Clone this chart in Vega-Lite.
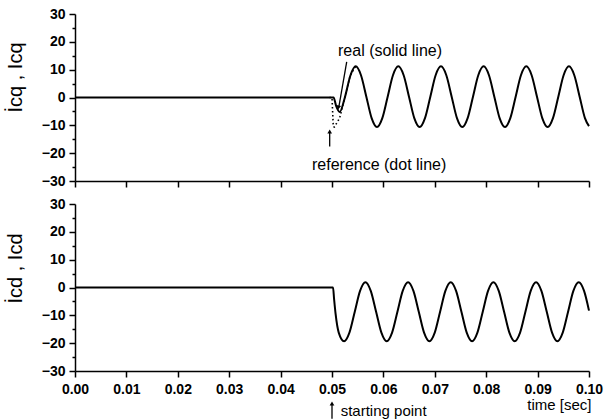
{
  "$schema": "https://vega.github.io/schema/vega-lite/v6.json",
  "background": "white",
  "padding": {"left": 5, "top": 7, "right": 10, "bottom": 0},
  "bounds": "flush",
  "spacing": 23,
  "config": {
    "font": "Liberation Sans",
    "view": {"stroke": null},
    "axis": {
      "grid": false,
      "domainColor": "black",
      "domainWidth": 1.5,
      "tickColor": "black",
      "tickWidth": 1.5,
      "labelColor": "black",
      "titleColor": "black",
      "labelFont": "Liberation Sans",
      "labelFontSize": 14,
      "labelFontWeight": "bold",
      "labelOverlap": false,
      "titleFont": "Liberation Sans",
      "titleFontWeight": "normal"
    }
  },
  "datasets": {
    "refq": [
      {"t": 0.0495, "v": 0}, {"t": 0.0500, "v": 0}, {"t": 0.05025, "v": -10.5}, {"t": 0.05045, "v": -10.6},
      {"t": 0.05149, "v": -7.4}, {"t": 0.05253, "v": 0.3}, {"t": 0.05356, "v": 8.0}, {"t": 0.0546, "v": 11.2}
    ],
    "realq": [
      {"t": 0, "v": 0}, {"t": 0.0503, "v": 0}, {"t": 0.0508, "v": -3}, {"t": 0.0515, "v": -5.2},
      {"t": 0.0525, "v": 0}, {"t": 0.0536, "v": 8.0}, {"t": 0.0546, "v": 11.2},
      {"t": 0.05564, "v": 8.0}, {"t": 0.05668, "v": 0.3}, {"t": 0.05771, "v": -7.4}, {"t": 0.05875, "v": -10.6},
      {"t": 0.05979, "v": -7.4}, {"t": 0.06083, "v": 0.3}, {"t": 0.06186, "v": 8.0}, {"t": 0.0629, "v": 11.2},
      {"t": 0.06394, "v": 8.0}, {"t": 0.06498, "v": 0.3}, {"t": 0.06601, "v": -7.4}, {"t": 0.06705, "v": -10.6},
      {"t": 0.06809, "v": -7.4}, {"t": 0.06913, "v": 0.3}, {"t": 0.07016, "v": 8.0}, {"t": 0.0712, "v": 11.2},
      {"t": 0.07224, "v": 8.0}, {"t": 0.07328, "v": 0.3}, {"t": 0.07431, "v": -7.4}, {"t": 0.07535, "v": -10.6},
      {"t": 0.07639, "v": -7.4}, {"t": 0.07743, "v": 0.3}, {"t": 0.07846, "v": 8.0}, {"t": 0.0795, "v": 11.2},
      {"t": 0.08054, "v": 8.0}, {"t": 0.08158, "v": 0.3}, {"t": 0.08261, "v": -7.4}, {"t": 0.08365, "v": -10.6},
      {"t": 0.08469, "v": -7.4}, {"t": 0.08573, "v": 0.3}, {"t": 0.08676, "v": 8.0}, {"t": 0.0878, "v": 11.2},
      {"t": 0.08884, "v": 8.0}, {"t": 0.08988, "v": 0.3}, {"t": 0.09091, "v": -7.4}, {"t": 0.09195, "v": -10.6},
      {"t": 0.09299, "v": -7.4}, {"t": 0.09403, "v": 0.3}, {"t": 0.09506, "v": 8.0}, {"t": 0.0961, "v": 11.2},
      {"t": 0.09714, "v": 8.0}, {"t": 0.09818, "v": 0.3}, {"t": 0.09921, "v": -7.4}, {"t": 0.1, "v": -10.3}
    ],
    "reald": [
      {"t": 0, "v": 0}, {"t": 0.0502, "v": 0}, {"t": 0.0504, "v": -4}, {"t": 0.0507, "v": -9.5},
      {"t": 0.05131, "v": -16.2}, {"t": 0.05235, "v": -19.3},
      {"t": 0.05339, "v": -16.2}, {"t": 0.05443, "v": -8.7}, {"t": 0.05546, "v": -1.2}, {"t": 0.0565, "v": 1.9},
      {"t": 0.05754, "v": -1.2}, {"t": 0.05858, "v": -8.7}, {"t": 0.05961, "v": -16.2}, {"t": 0.06065, "v": -19.3},
      {"t": 0.06169, "v": -16.2}, {"t": 0.06273, "v": -8.7}, {"t": 0.06376, "v": -1.2}, {"t": 0.0648, "v": 1.9},
      {"t": 0.06584, "v": -1.2}, {"t": 0.06688, "v": -8.7}, {"t": 0.06791, "v": -16.2}, {"t": 0.06895, "v": -19.3},
      {"t": 0.06999, "v": -16.2}, {"t": 0.07103, "v": -8.7}, {"t": 0.07206, "v": -1.2}, {"t": 0.0731, "v": 1.9},
      {"t": 0.07414, "v": -1.2}, {"t": 0.07518, "v": -8.7}, {"t": 0.07621, "v": -16.2}, {"t": 0.07725, "v": -19.3},
      {"t": 0.07829, "v": -16.2}, {"t": 0.07933, "v": -8.7}, {"t": 0.08036, "v": -1.2}, {"t": 0.0814, "v": 1.9},
      {"t": 0.08244, "v": -1.2}, {"t": 0.08348, "v": -8.7}, {"t": 0.08451, "v": -16.2}, {"t": 0.08555, "v": -19.3},
      {"t": 0.08659, "v": -16.2}, {"t": 0.08763, "v": -8.7}, {"t": 0.08866, "v": -1.2}, {"t": 0.0897, "v": 1.9},
      {"t": 0.09074, "v": -1.2}, {"t": 0.09178, "v": -8.7}, {"t": 0.09281, "v": -16.2}, {"t": 0.09385, "v": -19.3},
      {"t": 0.09489, "v": -16.2}, {"t": 0.09593, "v": -8.7}, {"t": 0.09696, "v": -1.2}, {"t": 0.098, "v": 1.9},
      {"t": 0.09904, "v": -1.2}, {"t": 0.1, "v": -8.3}
    ],
    "notesTop": [
      {"t": 0.05117, "v": 16.7, "label": "real (solid line)"},
      {"t": 0.04611, "v": -24.3, "label": "reference (dot line)"}
    ],
    "arrowsTop": [
      {"t": 0.05286, "v": 12.8, "t2": 0.05135, "v2": -3.2},
      {"t": 0.04955, "v": -17.6, "t2": 0.04955, "v2": -12.5}
    ],
    "headsTop": [
      {"t": 0.05125, "v": -3.6, "ang": 191},
      {"t": 0.04955, "v": -12.2, "ang": 0}
    ],
    "notesBottom": [
      {"t": 0.05169, "v": -44.4, "label": "starting point"}
    ],
    "arrowsBottom": [
      {"t": 0.0500, "v": -47.2, "t2": 0.0500, "v2": -42.0}
    ],
    "headsBottom": [
      {"t": 0.0500, "v": -41.7, "ang": 0}
    ]
  },
  "vconcat": [
    {
      "width": 514,
      "height": 167,
      "resolve": {"axis": {"y": "independent"}},
      "layer": [
        {
          "data": {"name": "refq"},
          "mark": {"type": "line", "color": "black", "strokeWidth": 1.6, "strokeDash": [1.5, 2.5], "interpolate": "linear"},
          "encoding": {
            "x": {"field": "t", "type": "quantitative", "scale": {"domain": [0, 0.1], "nice": false, "zero": false},
              "axis": {"values": [0, 0.005, 0.01, 0.015, 0.02, 0.025, 0.03, 0.035, 0.04, 0.045, 0.05, 0.055, 0.06, 0.065, 0.07, 0.075, 0.08, 0.085, 0.09, 0.095, 0.1],
                "labels": false, "title": null,
                "tickSize": {"condition": {"test": "abs(datum.value*100 - round(datum.value*100)) < 0.01", "value": 6}, "value": 3}}},
            "y": {"field": "v", "type": "quantitative", "scale": {"domain": [-30, 30], "nice": false},
              "axis": {"orient": "left", "values": [-30, -20, -10, 0, 10, 20, 30],
                "labelOverlap": false, "tickSize": 6, "labelPadding": 4,
                "title": "İcq , Icq", "titleFontSize": 20, "titleAngle": -90, "titleBaseline": "alphabetic",
                "titleAlign": "center", "titleX": -54, "titleY": 63}}
          }
        },
        {
          "data": {"name": "realq"},
          "mark": {"type": "line", "color": "black", "strokeWidth": 2, "interpolate": "monotone"},
          "encoding": {
            "x": {"field": "t", "type": "quantitative"},
            "y": {"field": "v", "type": "quantitative",
              "axis": {"orient": "left", "values": [-25, -15, -5, 5, 15, 25], "labels": false, "domain": false, "tickSize": 3, "title": null}}
          }
        },
        {
          "data": {"name": "notesTop"},
          "mark": {"type": "text", "align": "left", "baseline": "middle", "fontSize": 16, "color": "black"},
          "encoding": {
            "x": {"field": "t", "type": "quantitative"},
            "y": {"field": "v", "type": "quantitative", "axis": null},
            "text": {"field": "label"}
          }
        },
        {
          "data": {"name": "arrowsTop"},
          "mark": {"type": "rule", "color": "black", "strokeWidth": 1.3},
          "encoding": {
            "x": {"field": "t", "type": "quantitative"},
            "y": {"field": "v", "type": "quantitative", "axis": null},
            "x2": {"field": "t2"},
            "y2": {"field": "v2"}
          }
        },
        {
          "data": {"name": "headsTop"},
          "mark": {"type": "point", "shape": "triangle-up", "filled": true, "color": "black", "size": 22, "opacity": 1},
          "encoding": {
            "x": {"field": "t", "type": "quantitative"},
            "y": {"field": "v", "type": "quantitative", "axis": null},
            "angle": {"field": "ang", "type": "quantitative", "scale": null}
          }
        }
      ]
    },
    {
      "width": 514,
      "height": 167,
      "resolve": {"axis": {"y": "independent"}},
      "layer": [
        {
          "data": {"name": "reald"},
          "mark": {"type": "line", "color": "black", "strokeWidth": 2, "interpolate": "monotone"},
          "encoding": {
            "x": {"field": "t", "type": "quantitative", "scale": {"domain": [0, 0.1], "nice": false, "zero": false},
              "axis": {"values": [0, 0.005, 0.01, 0.015, 0.02, 0.025, 0.03, 0.035, 0.04, 0.045, 0.05, 0.055, 0.06, 0.065, 0.07, 0.075, 0.08, 0.085, 0.09, 0.095, 0.1],
                "labelExpr": "abs(datum.value*100 - round(datum.value*100)) < 0.01 ? format(datum.value, '.2f') : ''",
                "labelOverlap": false,
                "tickSize": {"condition": {"test": "abs(datum.value*100 - round(datum.value*100)) < 0.01", "value": 6}, "value": 3},
                "labelPadding": 5, "labelFlush": false,
                "title": "time [sec]", "titleFontSize": 15, "titleAlign": "right", "titleAnchor": "end",
                "titleBaseline": "top", "titleX": 516, "titleY": 26}},
            "y": {"field": "v", "type": "quantitative", "scale": {"domain": [-30, 30], "nice": false},
              "axis": {"orient": "left", "values": [-30, -20, -10, 0, 10, 20, 30],
                "labelOverlap": false, "tickSize": 6, "labelPadding": 4,
                "title": "İcd , Icd", "titleFontSize": 20, "titleAngle": -90, "titleBaseline": "alphabetic",
                "titleAlign": "center", "titleX": -54, "titleY": 64}}
          }
        },
        {
          "data": {"name": "notesBottom"},
          "mark": {"type": "text", "align": "left", "baseline": "middle", "fontSize": 15, "color": "black"},
          "encoding": {
            "x": {"field": "t", "type": "quantitative"},
            "y": {"field": "v", "type": "quantitative",
              "axis": {"orient": "left", "values": [-25, -15, -5, 5, 15, 25], "labels": false, "domain": false, "tickSize": 3, "title": null}},
            "text": {"field": "label"}
          }
        },
        {
          "data": {"name": "arrowsBottom"},
          "mark": {"type": "rule", "color": "black", "strokeWidth": 1.3},
          "encoding": {
            "x": {"field": "t", "type": "quantitative"},
            "y": {"field": "v", "type": "quantitative", "axis": null},
            "x2": {"field": "t2"},
            "y2": {"field": "v2"}
          }
        },
        {
          "data": {"name": "headsBottom"},
          "mark": {"type": "point", "shape": "triangle-up", "filled": true, "color": "black", "size": 22, "opacity": 1},
          "encoding": {
            "x": {"field": "t", "type": "quantitative"},
            "y": {"field": "v", "type": "quantitative", "axis": null},
            "angle": {"field": "ang", "type": "quantitative", "scale": null}
          }
        }
      ]
    }
  ]
}
